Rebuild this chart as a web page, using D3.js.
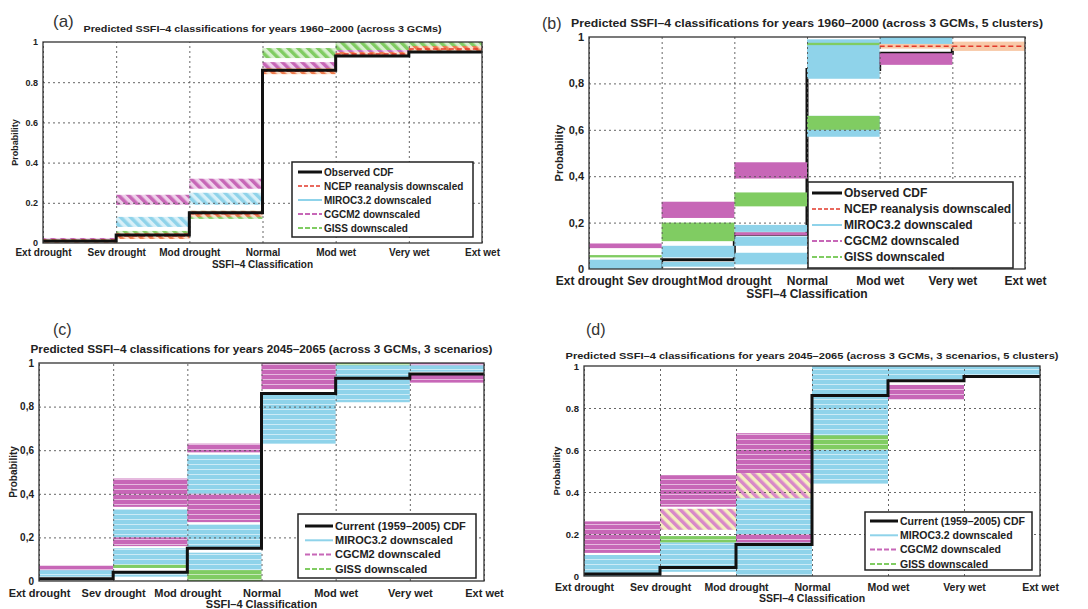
<!DOCTYPE html>
<html>
<head>
<meta charset="utf-8">
<script src="https://cdn.jsdelivr.net/npm/d3@7"></script>
<style>
body { margin: 0; background: #fff; }
text { font-family: "Liberation Sans", Arial, sans-serif; }
</style>
</head>
<body>
<svg id="fig" width="1088" height="609"></svg>
<script>
// ----------------------------------------------- //
// Data
var categories = ["Ext drought", "Sev drought", "Mod drought", "Normal", "Mod wet", "Very wet", "Ext wet"];
var yTicks = [0, 0.2, 0.4, 0.6, 0.8, 1];

// observed / current CDF, one value per step (segment between two classes)
var cdfObserved = [0.01, 0.04, 0.15, 0.86, 0.93, 0.95];

// bands: [segment, low, high]
// (a) 1960-2000, across 3 GCMs
var mirocA = [[0, 0.00, 0.015], [1, 0.08, 0.13], [2, 0.19, 0.25], [4, 0.95, 0.98]];
var cgcmA  = [[0, 0.005, 0.025], [1, 0.19, 0.24], [2, 0.27, 0.32], [3, 0.87, 0.90], [4, 0.93, 0.96], [5, 0.96, 0.99]];
var gissA  = [[0, 0.00, 0.01], [1, 0.03, 0.06], [2, 0.12, 0.16], [3, 0.92, 0.97], [4, 0.96, 1.00], [5, 0.975, 1.00]];
var ncepA  = [[0, 0.00, 0.02], [1, 0.02, 0.05], [2, 0.13, 0.16], [3, 0.84, 0.87], [4, 0.93, 0.95], [5, 0.95, 0.98]];

// (b) 1960-2000, across 3 GCMs, 5 clusters
var mirocB = [[0, 0.00, 0.04], [1, 0.01, 0.03], [1, 0.05, 0.10], [2, 0.02, 0.07], [2, 0.10, 0.14], [2, 0.16, 0.19],
              [3, 0.57, 0.66], [3, 0.82, 0.99], [4, 0.97, 1.00]];
var cgcmB  = [[0, 0.09, 0.11], [1, 0.22, 0.29], [2, 0.145, 0.158], [2, 0.39, 0.46], [4, 0.88, 0.93]];
var gissB  = [[0, 0.05, 0.06], [1, 0.12, 0.20], [2, 0.27, 0.33], [3, 0.60, 0.66], [3, 0.965, 0.975]];
var ncepB  = [[4, 0.95, 0.97], [5, 0.94, 0.98]];

// (c) 2045-2065, across 3 GCMs, 3 scenarios
var mirocC = [[0, 0.02, 0.05], [1, 0.02, 0.04], [1, 0.06, 0.15], [1, 0.20, 0.33], [2, 0.05, 0.13], [2, 0.15, 0.26],
              [2, 0.40, 0.58], [3, 0.63, 0.86], [4, 0.82, 1.00], [5, 0.96, 0.99]];
var cgcmC  = [[0, 0.05, 0.07], [1, 0.16, 0.20], [1, 0.34, 0.47], [2, 0.27, 0.40], [2, 0.59, 0.63], [3, 0.88, 1.00],
              [5, 0.91, 0.95], [5, 0.99, 1.00]];
var gissC  = [[1, 0.06, 0.075], [2, 0.00, 0.05], [4, 0.99, 1.00]];

// (d) 2045-2065, across 3 GCMs, 3 scenarios, 5 clusters
var mirocD = [[0, 0.00, 0.10], [1, 0.02, 0.16], [2, 0.00, 0.16], [2, 0.20, 0.37], [3, 0.44, 1.00], [4, 0.93, 1.00], [5, 0.95, 1.00]];
var cgcmD  = [[0, 0.11, 0.26], [1, 0.33, 0.48], [2, 0.16, 0.20], [2, 0.49, 0.68], [4, 0.84, 0.91]];
var mixD   = [[1, 0.22, 0.32], [2, 0.37, 0.49]];
var gissD  = [[1, 0.16, 0.19], [3, 0.60, 0.67]];

// ----------------------------------------------- //
// Colours
var colors = {
    miroc: "#8fd3ea",
    cgcm: "#c767b7",
    giss: "#80cc62",
    ncep: "#f2a77c",
    ncepLine: "#e2382a",
    cdf: "#111"
};

var svg = d3.select("#fig");
var defs = svg.append("defs");

// diagonal hatch patterns for panel (a)
function hatch(id, color, bg) {
    var p = defs.append("pattern")
        .attr("id", id)
        .attr("patternUnits", "userSpaceOnUse")
        .attr("width", 7)
        .attr("height", 7)
        .attr("patternTransform", "rotate(-45)");
    p.append("rect").attr("width", 7).attr("height", 7).attr("fill", bg);
    p.append("rect").attr("width", 3.5).attr("height", 7).attr("fill", color);
}
hatch("h-miroc", colors.miroc, "#d8f0f8");
hatch("h-cgcm", colors.cgcm, "#efd0ea");
hatch("h-giss", colors.giss, "#d8f0cf");
hatch("h-ncep", "#ec7a4c", "#fbe0cc");
hatch("h-mix", "#d888c8", "#f6eec0");

// horizontal stripe patterns (bands built from many thin lines)
function stripe(id, color) {
    var p = defs.append("pattern")
        .attr("id", id)
        .attr("patternUnits", "userSpaceOnUse")
        .attr("width", 6)
        .attr("height", 5);
    p.append("rect").attr("width", 6).attr("height", 5).attr("fill", color);
    p.append("rect").attr("y", 4).attr("width", 6).attr("height", 1).attr("fill", "#fff").attr("opacity", 0.55);
}
stripe("s-miroc", colors.miroc);
stripe("s-cgcm", colors.cgcm);
stripe("s-giss", colors.giss);

// ----------------------------------------------- //
// Panel set-up
var panels = [
    {
        label: "(a)", labelX: 53, labelY: 27, labelSize: 17,
        left: 43, right: 482, top: 42, bottom: 243,
        title: "Predicted SSFI\u20134 classifications for years 1960\u20132000 (across 3 GCMs)",
        titleY: 32, titleW: 358, titleSize: 9,
        tickSize: 10, tickY: 256, xLabelY: 268, yLabelX: 15, sep: ".", cdfBelow: false,
        bands: [
            {data: mirocA, fill: "url(#h-miroc)"},
            {data: cgcmA, fill: "url(#h-cgcm)"},
            {data: gissA, fill: "url(#h-giss)"},
            {data: ncepA, fill: "url(#h-ncep)", dash: colors.ncepLine}
        ],
        legend: {x: 292, y: 162, w: 181, h: 75, row0: 172, dy: 14, lx0: 298, lx1: 322, size: 10,
            items: ["obs", "ncep", "miroc", "cgcm", "giss"], obsText: "Observed CDF"}
    },
    {
        label: "(b)", labelX: 542, labelY: 29, labelSize: 16,
        left: 589, right: 1025, top: 37, bottom: 269,
        title: "Predicted SSFI\u20134 classifications for years 1960\u20132000 (across 3 GCMs, 5 clusters)",
        titleY: 27, titleW: 472, titleSize: 10.5,
        tickSize: 12, tickY: 285, xLabelY: 298, yLabelX: 559, sep: ",", cdfBelow: true,
        bands: [
            {data: mirocB, fill: colors.miroc},
            {data: gissB, fill: colors.giss},
            {data: cgcmB, fill: colors.cgcm},
            {data: ncepB, fill: "#f8c9a8", dash: colors.ncepLine}
        ],
        legend: {x: 808, y: 182, w: 205, h: 86, row0: 193, dy: 16, lx0: 812, lx1: 842, size: 12,
            items: ["obs", "ncep", "miroc", "cgcm", "giss"], obsText: "Observed CDF"}
    },
    {
        label: "(c)", labelX: 53, labelY: 335, labelSize: 16,
        left: 39, right: 484, top: 363, bottom: 581,
        title: "Predicted SSFI\u20134 classifications for years 2045\u20132065 (across 3 GCMs, 3 scenarios)",
        titleY: 353, titleW: 462, titleSize: 10,
        tickSize: 11, tickY: 597, xLabelY: 608, yLabelX: 13, sep: ",", cdfBelow: false,
        bands: [
            {data: mirocC, fill: "url(#s-miroc)"},
            {data: gissC, fill: "url(#s-giss)"},
            {data: cgcmC, fill: "url(#s-cgcm)"}
        ],
        legend: {x: 298, y: 514, w: 178, h: 64, row0: 526, dy: 14.3, lx0: 305, lx1: 333, size: 11,
            items: ["obs", "miroc", "cgcm", "giss"], obsText: "Current (1959\u20132005) CDF"}
    },
    {
        label: "(d)", labelX: 586, labelY: 335, labelSize: 16,
        left: 584, right: 1040, top: 366, bottom: 576,
        title: "Predicted SSFI\u20134 classifications for years 2045\u20132065 (across 3 GCMs, 3 scenarios, 5 clusters)",
        titleY: 359, titleW: 493, titleSize: 9.5,
        tickSize: 10.5, tickY: 591, xLabelY: 602, yLabelX: 557, sep: ".", cdfBelow: false,
        bands: [
            {data: mirocD, fill: "url(#s-miroc)"},
            {data: cgcmD, fill: "url(#s-cgcm)"},
            {data: mixD, fill: "url(#h-mix)"},
            {data: gissD, fill: "url(#s-giss)"}
        ],
        legend: {x: 865, y: 512, w: 167, h: 58, row0: 521, dy: 14.3, lx0: 870, lx1: 898, size: 10.5,
            items: ["obs", "miroc", "cgcm", "giss"], obsText: "Current (1959\u20132005) CDF"}
    }
];

var legendText = {
    ncep: "NCEP reanalysis downscaled",
    miroc: "MIROC3.2 downscaled",
    cgcm: "CGCM2 downscaled",
    giss: "GISS downscaled"
};

// ----------------------------------------------- //
// Draw one panel
function drawPanel(p) {
    var g = svg.append("g");

    var x = d3.scalePoint()
        .domain(categories)
        .range([p.left, p.right]);
    var y = d3.scaleLinear()
        .domain([0, 1])
        .range([p.bottom, p.top]);

    // panel letter and title
    g.append("text")
        .attr("x", p.labelX).attr("y", p.labelY)
        .attr("font-size", p.labelSize)
        .attr("fill", "#333")
        .text(p.label);
    g.append("text")
        .attr("x", (p.left + p.right) / 2).attr("y", p.titleY)
        .attr("text-anchor", "middle")
        .attr("font-size", p.titleSize)
        .attr("font-weight", "bold")
        .attr("fill", "#222")
        .attr("textLength", p.titleW)
        .attr("lengthAdjust", "spacingAndGlyphs")
        .text(p.title);

    // CDF step line
    var stepPts = cdfObserved.map((v, i) => [x(categories[i]), y(v)]);
    stepPts.push([x(categories[categories.length - 1]), y(cdfObserved[cdfObserved.length - 1])]);
    function drawCdf() {
        g.append("path")
            .attr("d", d3.line().curve(d3.curveStepAfter)(stepPts))
            .attr("fill", "none")
            .attr("stroke", colors.cdf)
            .attr("stroke-width", 3);
    }
    if (p.cdfBelow) drawCdf();

    // bands
    p.bands.forEach(function(b) {
        g.selectAll(null)
            .data(b.data)
            .enter()
            .append("rect")
            .attr("x", d => x(categories[d[0]]))
            .attr("width", d => x(categories[d[0] + 1]) - x(categories[d[0]]))
            .attr("y", d => y(d[2]))
            .attr("height", d => y(d[1]) - y(d[2]))
            .attr("fill", b.fill);
        if (b.dash) {
            g.selectAll(null)
                .data(b.data)
                .enter()
                .append("line")
                .attr("x1", d => x(categories[d[0]]))
                .attr("x2", d => x(categories[d[0] + 1]))
                .attr("y1", d => y((d[1] + d[2]) / 2))
                .attr("y2", d => y((d[1] + d[2]) / 2))
                .attr("stroke", b.dash)
                .attr("stroke-width", 1.5)
                .attr("stroke-dasharray", "5,3");
        }
    });

    // dotted grid
    var xAxisGrid = d3.axisBottom(x)
        .tickSize(-(p.bottom - p.top))
        .tickFormat("");
    g.append("g")
        .attr("transform", `translate(0, ${p.bottom})`)
        .call(xAxisGrid)
        .call(s => s.select(".domain").remove())
        .call(s => s.selectAll("line").attr("stroke", "#555").attr("stroke-dasharray", "2,3").attr("stroke-width", 0.9));
    var yAxisGrid = d3.axisLeft(y)
        .tickValues(yTicks.slice(1, -1))
        .tickSize(-(p.right - p.left))
        .tickFormat("");
    g.append("g")
        .attr("transform", `translate(${p.left}, 0)`)
        .call(yAxisGrid)
        .call(s => s.select(".domain").remove())
        .call(s => s.selectAll("line").attr("stroke", "#555").attr("stroke-dasharray", "2,3").attr("stroke-width", 0.9));

    if (!p.cdfBelow) drawCdf();

    // frame
    g.append("rect")
        .attr("x", p.left).attr("y", p.top)
        .attr("width", p.right - p.left).attr("height", p.bottom - p.top)
        .attr("fill", "none")
        .attr("stroke", "#333")
        .attr("stroke-width", 1.3);

    // axes
    var bottomAxis = d3.axisBottom(x).tickSize(0).tickPadding(0);
    var xAxis = g.append("g")
        .attr("transform", `translate(0, ${p.tickY})`)
        .call(bottomAxis);
    xAxis.select(".domain").remove();
    xAxis.selectAll("text")
        .attr("dy", 0)
        .attr("font-size", p.tickSize)
        .attr("font-weight", "bold")
        .attr("font-family", "Liberation Sans, Arial, sans-serif")
        .attr("fill", "#222");

    var fmt = d => (d === 0 || d === 1) ? String(d) : d3.format(".1f")(d).replace(".", p.sep);
    var leftAxis = d3.axisLeft(y).tickValues(yTicks).tickSize(0).tickPadding(5).tickFormat(fmt);
    var yAxis = g.append("g")
        .attr("transform", `translate(${p.left}, 0)`)
        .call(leftAxis);
    yAxis.select(".domain").remove();
    yAxis.selectAll("text")
        .attr("font-size", p.tickSize - 1)
        .attr("font-weight", "bold")
        .attr("font-family", "Liberation Sans, Arial, sans-serif")
        .attr("fill", "#222");

    // axis labels
    g.append("text")
        .attr("x", (p.left + p.right) / 2).attr("y", p.xLabelY)
        .attr("text-anchor", "middle")
        .attr("font-size", p.tickSize)
        .attr("font-weight", "bold")
        .attr("fill", "#222")
        .text("SSFI\u20134 Classification");
    g.append("text")
        .attr("transform", `translate(${p.yLabelX}, ${(p.top + p.bottom) / 2}) rotate(-90)`)
        .attr("text-anchor", "middle")
        .attr("dy", "0.35em")
        .attr("font-size", p.tickSize - 1)
        .attr("font-weight", "bold")
        .attr("fill", "#222")
        .text("Probability");

    // legend
    var L = p.legend;
    g.append("rect")
        .attr("x", L.x).attr("y", L.y)
        .attr("width", L.w).attr("height", L.h)
        .attr("fill", "#fff")
        .attr("stroke", "#222")
        .attr("stroke-width", 1.5);
    L.items.forEach(function(k, i) {
        var ry = L.row0 + i * L.dy;
        var line = g.append("line")
            .attr("x1", L.lx0).attr("x2", L.lx1)
            .attr("y1", ry).attr("y2", ry);
        if (k === "obs") {
            line.attr("stroke", colors.cdf).attr("stroke-width", 3);
        } else if (k === "ncep") {
            line.attr("stroke", colors.ncepLine).attr("stroke-width", 1.5).attr("stroke-dasharray", "4,2");
        } else {
            line.attr("stroke", colors[k]).attr("stroke-width", 2).attr("stroke-dasharray", k === "miroc" ? null : "5,2");
        }
        g.append("text")
            .attr("x", L.lx1 + 2).attr("y", ry)
            .attr("dy", "0.35em")
            .attr("font-size", L.size)
            .attr("font-weight", "bold")
            .attr("fill", "#222")
            .text(k === "obs" ? L.obsText : legendText[k]);
    });
}

panels.forEach(drawPanel);
</script>
</body>
</html>
